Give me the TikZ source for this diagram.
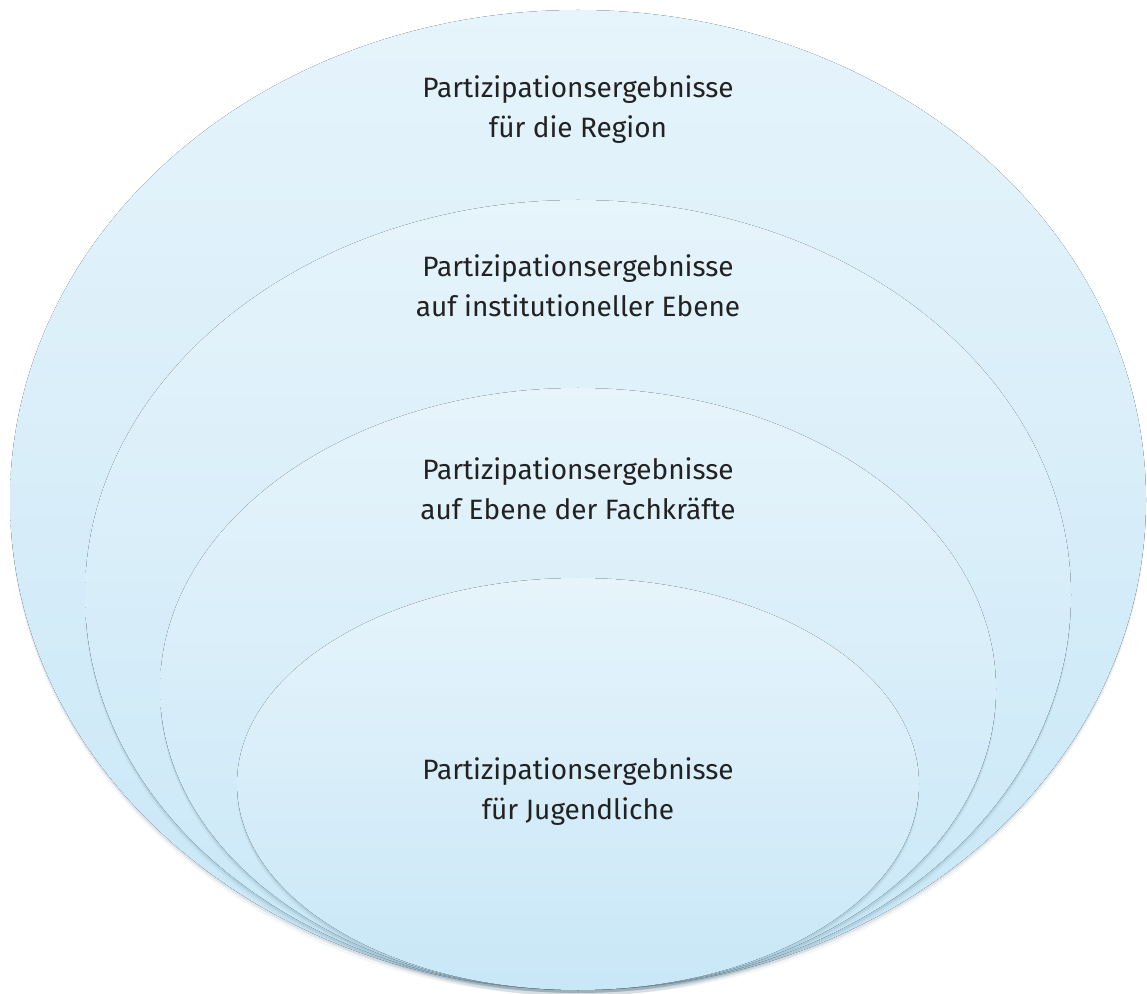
\documentclass[tikz,border=0pt]{standalone}
\usepackage{fontspec}
\setmainfont{Fira Sans}
\definecolor{skytop}{HTML}{E6F4FB}
\definecolor{skybot}{HTML}{C8E7F7}
\definecolor{shade}{HTML}{5E7F92}
\definecolor{txt}{HTML}{222222}
\begin{document}
\begin{tikzpicture}[x=0.75pt,y=-0.75pt,
    layer/.style={top color=skytop,bottom color=skybot},
    shad/.style={fill=shade,opacity=#1},
    label/.style={text=txt,align=center,font=\fontsize{21}{30}\selectfont}]
    \useasboundingbox (0,0) rectangle (1147,994);
    % outer ring: region
    \fill[shad=0.07] (578,506) ellipse (568 and 490);
    \fill[shad=0.14] (578,503) ellipse (568 and 490);
    \fill[layer] (578,500) ellipse (568 and 490);
    % institutional level
    \fill[shad=0.07] (578,601) ellipse (493 and 395);
    \fill[shad=0.16] (578,598) ellipse (493 and 395);
    \fill[layer] (578,595) ellipse (493 and 395);
    % professionals
    \fill[shad=0.07] (578,695) ellipse (418 and 301);
    \fill[shad=0.16] (578,692) ellipse (418 and 301);
    \fill[layer] (578,689) ellipse (418 and 301);
    % young people
    \fill[shad=0.07] (578,790) ellipse (341 and 206);
    \fill[shad=0.16] (578,787) ellipse (341 and 206);
    \fill[layer] (578,784) ellipse (341 and 206);

    \node[label] (region) at (578,110) {Partizipationsergebnisse\\für die Region};
    \node[label] (inst) at (578,286) {Partizipationsergebnisse\\auf institutioneller Ebene};
    \node[label] (fach) at (578,489) {Partizipationsergebnisse\\auf Ebene der Fachkräfte};
    \node[label] (jugend) at (578,792) {Partizipationsergebnisse\\für Jugendliche};
\end{tikzpicture}
\end{document}
